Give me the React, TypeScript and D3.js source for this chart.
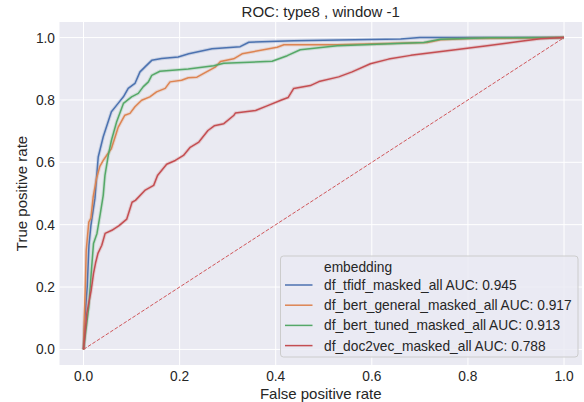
import React from 'react';
import * as d3 from 'd3';

const W = 584;
const H = 402;

const title = 'ROC: type8 , window -1';
const xTicks = [0, 0.2, 0.4, 0.6, 0.8, 1.0];
const yTicks = [0, 0.2, 0.4, 0.6, 0.8, 1.0];

const seriesNames = [
    'df_tfidf_masked_all',
    'df_bert_general_masked_all',
    'df_bert_tuned_masked_all',
    'df_doc2vec_masked_all',
];
const aucs = [0.945, 0.917, 0.913, 0.788];
const colors = ['#4c72b0', '#dd8452', '#55a868', '#c44e52'];

// [fpr, tpr]
const tfidf = [
    [0, 0], [0.0025, 0.094], [0.0077, 0.201], [0.0113, 0.334], [0.0154, 0.398], [0.0238, 0.485],
    [0.027, 0.549], [0.0306, 0.617], [0.041, 0.682], [0.058, 0.762], [0.072, 0.789], [0.083, 0.81],
    [0.093, 0.837], [0.107, 0.853], [0.1175, 0.89], [0.128, 0.906], [0.142, 0.927], [0.1625, 0.933],
    [0.197, 0.938], [0.219, 0.948], [0.2675, 0.964], [0.326, 0.971], [0.344, 0.985], [0.437, 0.99],
    [0.66, 0.9955], [0.7, 1], [1, 1],
];
const bertGeneral = [
    [0, 0], [0.0015, 0.094], [0.0035, 0.19], [0.0056, 0.318], [0.011, 0.408], [0.0154, 0.421],
    [0.02, 0.488], [0.027, 0.548], [0.034, 0.587], [0.041, 0.606], [0.048, 0.622], [0.058, 0.644],
    [0.0667, 0.686], [0.072, 0.712], [0.086, 0.751], [0.0967, 0.757], [0.107, 0.778], [0.121, 0.799],
    [0.138, 0.81], [0.152, 0.826], [0.17, 0.837], [0.18, 0.858], [0.204, 0.863], [0.218, 0.871],
    [0.236, 0.873], [0.274, 0.905], [0.285, 0.923], [0.3125, 0.932], [0.33, 0.948], [0.403, 0.969],
    [0.417, 0.977], [0.528, 0.977], [0.715, 0.984], [0.743, 0.993], [0.805, 0.997], [1, 1],
];
const bertTuned = [
    [0, 0], [0.011, 0.137], [0.016, 0.245], [0.0208, 0.34], [0.028, 0.372], [0.035, 0.436],
    [0.041, 0.494], [0.0446, 0.558], [0.0515, 0.622], [0.058, 0.67], [0.069, 0.73], [0.083, 0.789],
    [0.1, 0.81], [0.114, 0.821], [0.124, 0.842], [0.135, 0.858], [0.142, 0.879], [0.159, 0.892],
    [0.218, 0.899], [0.271, 0.91], [0.292, 0.918], [0.3925, 0.924], [0.424, 0.942], [0.451, 0.961],
    [0.528, 0.974], [0.708, 0.984], [0.743, 0.995], [0.847, 0.9994], [1, 1],
];
const doc2vec = [
    [0, 0], [0.007, 0.117], [0.016, 0.19], [0.0208, 0.244], [0.025, 0.277], [0.03, 0.308],
    [0.038, 0.334], [0.045, 0.372], [0.059, 0.382], [0.074, 0.397], [0.09, 0.418], [0.101, 0.472],
    [0.108, 0.478], [0.1285, 0.511], [0.146, 0.526], [0.154, 0.558], [0.173, 0.594], [0.191, 0.606],
    [0.208, 0.622], [0.222, 0.648], [0.24, 0.665], [0.259, 0.702], [0.272, 0.717], [0.292, 0.724],
    [0.3125, 0.75], [0.316, 0.758], [0.358, 0.766], [0.382, 0.781], [0.412, 0.8], [0.426, 0.808],
    [0.4375, 0.837], [0.472, 0.846], [0.49, 0.859], [0.531, 0.874], [0.559, 0.89], [0.597, 0.916],
    [0.635, 0.931], [0.681, 0.943], [0.778, 0.962], [0.84, 0.974], [0.91, 0.988], [0.951, 0.996],
    [1, 1],
];
const curves = [tfidf, bertGeneral, bertTuned, doc2vec];

const font = '"Liberation Sans", Arial, sans-serif';
const textColor = '#262626';

export default function App() {
    const left = 59.5;
    const right = 582;
    const top = 22;
    const bottom = 365;

    const x = d3.scaleLinear().domain([-0.05, 1.0374]).range([left, right]);
    const y = d3.scaleLinear().domain([-0.05, 1.05]).range([bottom, top]);

    const line = d3
        .line<number[]>()
        .x((d) => x(d[0]))
        .y((d) => y(d[1]));

    const lg = { x: 280.5, y: 256, w: 297.5, h: 101 };

    return (
        <svg
            width={W}
            height={H}
            style={{ position: 'absolute', left: 0, top: 0, background: '#fff' }}
            fontFamily={font}
        >
            <rect x={left} y={top} width={right - left} height={bottom - top} fill="#eaeaf2" />
            {xTicks.map((t) => (
                <line key={'gx' + t} x1={x(t)} x2={x(t)} y1={top} y2={bottom} stroke="#fff" strokeWidth={1} />
            ))}
            {yTicks.map((t) => (
                <line key={'gy' + t} x1={left} x2={right} y1={y(t)} y2={y(t)} stroke="#fff" strokeWidth={1} />
            ))}

            {curves.map((c, i) => (
                <g key={seriesNames[i]}>
                    <path d={line(c) || ''} fill="none" stroke={colors[i]} strokeOpacity={0.2} strokeWidth={3.5} />
                    <path d={line(c) || ''} fill="none" stroke={colors[i]} strokeWidth={1.5} strokeLinejoin="round" />
                </g>
            ))}
            <line
                x1={x(0)}
                y1={y(0)}
                x2={x(1)}
                y2={y(1)}
                stroke="#d0575b"
                strokeWidth={1}
                strokeDasharray="3.7,1.6"
            />

            {xTicks.map((t) => (
                <text key={'tx' + t} x={x(t)} y={381} textAnchor="middle" fontSize={13.75} fill={textColor}>
                    {d3.format('.1f')(t)}
                </text>
            ))}
            {yTicks.map((t) => (
                <text key={'ty' + t} x={55} y={y(t) + 5} textAnchor="end" fontSize={13.75} fill={textColor}>
                    {d3.format('.1f')(t)}
                </text>
            ))}

            <text x={(left + right) / 2} y={17} textAnchor="middle" fontSize={15} fill={textColor}>
                {title}
            </text>
            <text x={(left + right) / 2} y={398.5} textAnchor="middle" fontSize={15} fill={textColor}>
                False positive rate
            </text>
            <text
                transform={`translate(27,${(top + bottom) / 2}) rotate(-90)`}
                textAnchor="middle"
                fontSize={15}
                fill={textColor}
            >
                True positive rate
            </text>

            <rect
                x={lg.x}
                y={lg.y}
                width={lg.w}
                height={lg.h}
                rx={3}
                fill="#eaeaf2"
                fillOpacity={0.8}
                stroke="#cccccc"
                strokeWidth={1}
            />
            <text x={324} y={272} fontSize={13.75} fill={textColor}>
                embedding
            </text>
            {seriesNames.map((n, i) => {
                const ly = 285 + i * 20.2;
                return (
                    <g key={'lg' + n}>
                        <line x1={285} x2={312.5} y1={ly} y2={ly} stroke={colors[i]} strokeWidth={1.5} />
                        <text x={324} y={ly + 5} fontSize={13.75} fill={textColor}>
                            {`${n} AUC: ${aucs[i].toFixed(3)}`}
                        </text>
                    </g>
                );
            })}
        </svg>
    );
}
